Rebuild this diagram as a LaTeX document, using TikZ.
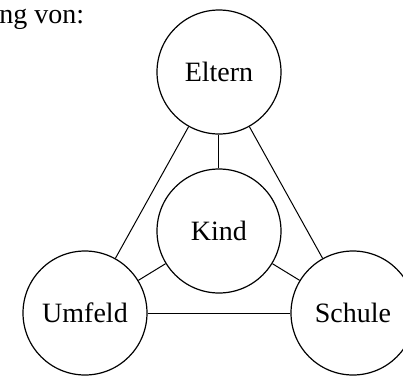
\documentclass[tikz,border=0pt]{standalone}
\usepackage{fontspec}
\setmainfont{Liberation Serif}
\begin{document}
\begin{tikzpicture}[x=0.5pt,y=-0.5pt,
  circ/.style={circle,draw,line width=0.6pt,minimum size=62pt,inner sep=0pt,font=\fontsize{14}{16}\selectfont},
  conn/.style={line width=0.5pt}]
\useasboundingbox (0,0) rectangle (403,377);
\node[anchor=base west,inner sep=0pt,font=\fontsize{14}{16}\selectfont] (head) at (-1,23) {ng von:};
\node[circ] (eltern) at (219,72) {Eltern};
\node[circ] (kind) at (219,231) {Kind};
\node[circ] (umfeld) at (85,313) {Umfeld};
\node[circ] (schule) at (353,313) {Schule};
\draw[conn] (eltern) -- (kind);
\draw[conn] (eltern) -- (umfeld);
\draw[conn] (eltern) -- (schule);
\draw[conn] (kind) -- (umfeld);
\draw[conn] (kind) -- (schule);
\draw[conn] (umfeld) -- (schule);
\end{tikzpicture}
\end{document}
